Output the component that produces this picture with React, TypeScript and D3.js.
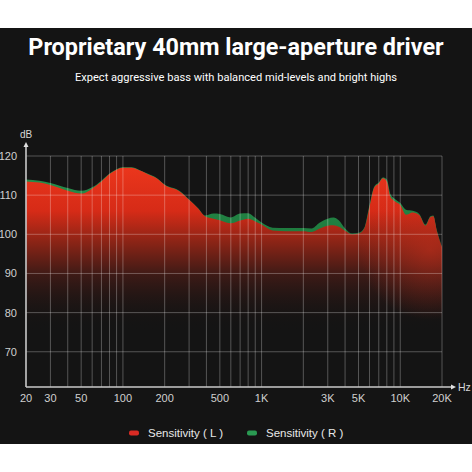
import React from "react";
import * as d3 from "d3";

// frequency response readings (Hz / dB)
const freqs = [20, 25, 30, 35, 40, 45, 50, 55, 60, 70, 80, 90, 100, 115, 130, 150, 175, 200, 258, 300, 350, 390, 450, 500, 600, 700, 800, 900, 1000, 1200, 1500, 2000, 2300, 2600, 3000, 3300, 3600, 4000, 4500, 5000, 5500, 6000, 6500, 7000, 7500, 8000, 8500, 9000, 10000, 11000, 12300, 13700, 15200, 16500, 17300, 18300, 20000];
const leftDb = [113.5, 113.2, 112.6, 111.8, 111.1, 110.6, 110.4, 110.8, 111.7, 113.5, 115.4, 116.5, 117.0, 117.0, 116.4, 115.4, 114.3, 112.6, 110.9, 108.8, 106.5, 104.6, 104.0, 103.6, 102.8, 103.5, 104.0, 103.3, 102.5, 101.0, 100.8, 100.8, 100.6, 101.4, 102.2, 102.3, 101.9, 100.9, 100.0, 100.2, 101.5, 107.0, 112.0, 113.0, 114.3, 113.5, 109.5, 108.6, 107.5, 105.0, 105.6, 104.9, 102.2, 104.4, 104.6, 101.0, 96.7];
const rightDb = [114.0, 113.7, 113.1, 112.4, 111.8, 111.3, 111.1, 111.4, 112.0, 113.7, 115.5, 116.6, 117.1, 117.1, 116.5, 115.5, 114.4, 112.7, 111.0, 108.9, 106.6, 104.8, 105.3, 105.2, 104.3, 105.3, 105.4, 104.2, 103.0, 101.7, 101.6, 101.6, 101.5, 102.9, 104.0, 104.3, 103.6, 101.5, 100.2, 100.4, 101.7, 107.5, 112.2, 113.2, 114.5, 114.0, 110.2, 109.2, 108.0, 106.3, 106.0, 105.2, 102.5, 104.6, 104.8, 101.2, 96.9];

const dbTicks = [70, 80, 90, 100, 110, 120];
const gridFreqs = [30, 40, 50, 60, 70, 80, 90, 100, 200, 300, 400, 500, 600, 700, 800, 900, 1000, 2000, 3000, 4000, 5000, 6000, 7000, 8000, 9000, 10000, 20000];
const freqTicks = [20, 30, 50, 100, 200, 500, 1000, 3000, 5000, 10000, 20000];
const freqLabels = ["20", "30", "50", "100", "200", "500", "1K", "3K", "5K", "10K", "20K"];

const series = [
  { name: "Sensitivity ( L )", values: leftDb, color: "#d92b24" },
  { name: "Sensitivity ( R )", values: rightDb, color: "#2a9a52" },
];

export default function App() {
  const W = 472, H = 472;
  const x = d3.scaleLog().domain([20, 20000]).range([26, 442]);
  const y = d3.scaleLinear().domain([61, 120]).range([387, 156]);
  const sans = "'Liberation Sans', Arial, sans-serif";

  const area = (vals: number[]) =>
    d3.area<number>()
      .x((d, i) => x(freqs[i]))
      .y0(y(61))
      .y1((d) => y(d))
      .curve(d3.curveMonotoneX)(vals) || "";

  return (
    <div>
      <style>{`body{margin:0}`}</style>
      <svg width={W} height={H} style={{ display: "block" }}>
        <defs>
          <linearGradient id="redFill" gradientUnits="userSpaceOnUse" x1="0" y1="160" x2="0" y2="330">
            <stop offset="0" stopColor="#ee381d" />
            <stop offset="0.3" stopColor="#d62b17" />
            <stop offset="0.48" stopColor="#8c2416" />
            <stop offset="0.68" stopColor="#3c1a16" />
            <stop offset="1" stopColor="#141313" stopOpacity="0" />
          </linearGradient>
          <radialGradient id="redGlow" gradientUnits="userSpaceOnUse" cx="430" cy="250" r="70">
            <stop offset="0" stopColor="#c8301c" stopOpacity="0.55" />
            <stop offset="1" stopColor="#c8301c" stopOpacity="0" />
          </radialGradient>
          <linearGradient id="greenFill" gradientUnits="userSpaceOnUse" x1="0" y1="160" x2="0" y2="262">
            <stop offset="0" stopColor="#27924e" />
            <stop offset="0.7" stopColor="#1f7c3f" />
            <stop offset="1" stopColor="#1d6a3a" stopOpacity="0" />
          </linearGradient>
        </defs>
        <rect x={0} y={0} width={W} height={H} fill="#ffffff" />
        <rect x={0} y={28} width={W} height={416} fill="#141414" />

        <text x={236} y={55} textAnchor="middle" fill="#ffffff" fontFamily="Roboto, sans-serif" fontWeight={700} fontSize={23.4}>
          Proprietary 40mm large-aperture driver
        </text>
        <text x={236} y={81} textAnchor="middle" fill="#ffffff" fontFamily="Roboto, sans-serif" fontSize={11.1}>
          Expect aggressive bass with balanced mid-levels and bright highs
        </text>

        <path d={area(rightDb)} fill="url(#greenFill)" />
        <path d={area(leftDb)} fill="url(#redFill)" />
        <path d={area(leftDb)} fill="url(#redGlow)" />

        {/* grid */}
        <g stroke="#ffffff" strokeOpacity={0.28} strokeWidth={1}>
          {dbTicks.map((t) => (
            <line key={"h" + t} x1={x(20)} x2={x(20000)} y1={y(t)} y2={y(t)} />
          ))}
          {gridFreqs.map((f) => (
            <line key={"v" + f} x1={x(f)} x2={x(f)} y1={y(120)} y2={y(61)} />
          ))}
        </g>

        {/* axes */}
        <g stroke="#c8c8c8" strokeWidth={1.6} fill="none">
          <line x1={x(20)} x2={x(20)} y1={y(61)} y2={146} />
          <line x1={x(20)} x2={452} y1={y(61)} y2={y(61)} />
        </g>
        <path d={`M${x(20) - 2.5},147 L${x(20)},142 L${x(20) + 2.5},147 Z`} fill="#e0e0e0" />
        <path d={`M451,${y(61) - 2.5} L456,${y(61)} L451,${y(61) + 2.5} Z`} fill="#e0e0e0" />
        <text x={x(20)} y={138} textAnchor="middle" fill="#d8d8d8" fontFamily={sans} fontSize={10}>dB</text>
        <text x={458} y={391} fill="#d8d8d8" fontFamily={sans} fontSize={10.5}>Hz</text>

        {dbTicks.map((t) => (
          <text key={"yl" + t} x={17} y={y(t) + 4} textAnchor="end" fill="#d0d0d0" fontFamily={sans} fontSize={11}>
            {t}
          </text>
        ))}
        {freqTicks.map((f, i) => (
          <text key={"xl" + f} x={x(f)} y={402} textAnchor="middle" fill="#d0d0d0" fontFamily={sans} fontSize={11}>
            {freqLabels[i]}
          </text>
        ))}

        {/* legend */}
        {series.map((s, i) => (
          <g key={s.name} transform={`translate(${129 + i * 118},433)`}>
            <rect x={0} y={-2.5} width={10} height={5} rx={2} fill={s.color} />
            <text x={19} y={4} fill="#e8e8e8" fontFamily={sans} fontSize={11.5}>{s.name}</text>
          </g>
        ))}
      </svg>
    </div>
  );
}
